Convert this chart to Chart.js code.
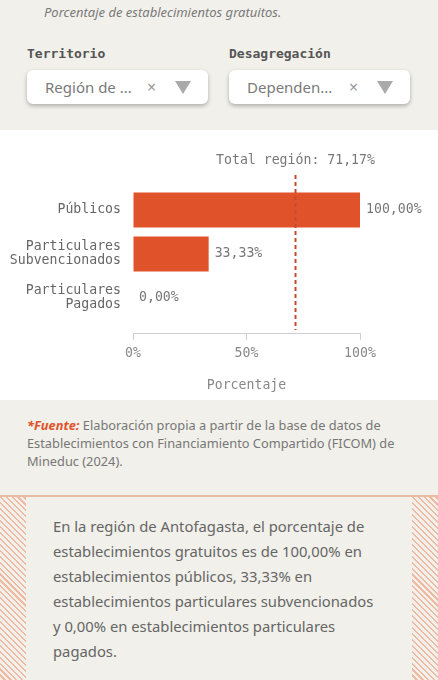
<!DOCTYPE html>
<html lang="es">
<head>
<meta charset="utf-8">
<script src="https://cdn.jsdelivr.net/npm/chart.js@4.4.1/dist/chart.umd.min.js"></script>
<style>
  body { margin: 0; width: 438px; height: 680px; overflow: hidden; background: #f1f0ea; font-family: "Noto Sans", sans-serif; }
  .head { position: relative; height: 130px; }
  .subtitle { position: absolute; left: 44px; top: 3px; font-size: 13px; font-style: italic; color: #7a7a7a; }
  .lbl { position: absolute; top: 46px; font-family: "DejaVu Sans Mono", monospace; font-weight: bold; font-size: 13px; color: #555; }
  .sel { position: absolute; top: 70px; width: 181px; height: 34px; background: #fff; border-radius: 6px;
         box-shadow: 0 2px 4px rgba(0,0,0,0.28); }
  .sel span { position: absolute; left: 18px; top: 7px; font-size: 15px; color: #7a7a7a; }
  .sel .x { left: 120px; top: 6px; font-size: 16px; color: #999; }
  .sel .tri { position: absolute; left: 148px; top: 11px; width: 0; height: 0;
              border-left: 8px solid transparent; border-right: 8px solid transparent; border-top: 13px solid #aaa; }
  .chartbox { background: #fff; height: 270px; }
  .src { padding: 16px 22px 0 27px; height: 79px; font-size: 12.8px; line-height: 18px; color: #777; }
  .src b { color: #e0532a; font-style: italic; }
  .sep { height: 2px; background: #ebbaa2; }
  .note { display: flex; height: 185px; }
  .hatch { width: 26px; background: repeating-linear-gradient(45deg, #efb9a2 0 1.5px, transparent 1.5px 4.2px); }
  .notetext { flex: 1; padding: 17px 31px 0 27px; font-size: 14.8px; line-height: 25px; color: #666; }
</style>
</head>
<body>
<div class="head">
  <div class="subtitle">Porcentaje de establecimientos gratuitos.</div>
  <div class="lbl" style="left:27px">Territorio</div>
  <div class="lbl" style="left:229px">Desagregación</div>
  <div class="sel" style="left:27px"><span>Región de ...</span><span class="x">×</span><div class="tri"></div></div>
  <div class="sel" style="left:229px"><span>Dependen...</span><span class="x">×</span><div class="tri"></div></div>
</div>
<div class="chartbox"><canvas id="chart" width="438" height="270"></canvas></div>
<div class="src"><b>*Fuente:</b> Elaboración propia a partir de la base de datos de Establecimientos con Financiamiento Compartido (FICOM) de Mineduc (2024).</div>
<div class="sep"></div>
<div class="note">
  <div class="hatch"></div>
  <div class="notetext">En la región de Antofagasta, el porcentaje de establecimientos gratuitos es de 100,00% en establecimientos públicos, 33,33% en establecimientos particulares subvencionados y 0,00% en establecimientos particulares pagados.</div>
  <div class="hatch"></div>
</div>
<script>
const categories = ["Públicos", ["Particulares", "Subvencionados"], ["Particulares", "Pagados"]];
const values = [100, 33.33, 0];
const regionTotal = 71.17;
const xTicks = [0, 50, 100];

const MONO = "'DejaVu Sans Mono', monospace";
const MONO_SIZE = 13.2;
const BAR = "#e0522a";

function fmt(v) {
  return v.toFixed(2).replace(".", ",") + "%";
}

const extras = {
  id: "extras",
  afterDatasetsDraw(chart) {
    const { ctx, chartArea, scales } = chart;
    const x = scales.x;
    ctx.save();

    // axis line, a bit below the bars
    const axisY = chartArea.bottom + 13.5;
    ctx.strokeStyle = "#cfcfcf";
    ctx.lineWidth = 1;
    ctx.beginPath();
    ctx.moveTo(x.getPixelForValue(xTicks[0]), axisY);
    ctx.lineTo(x.getPixelForValue(xTicks[xTicks.length - 1]), axisY);
    ctx.stroke();

    // value labels
    ctx.font = MONO_SIZE + "px " + MONO;
    ctx.fillStyle = "#777";
    ctx.textBaseline = "middle";
    ctx.textAlign = "left";
    chart.getDatasetMeta(0).data.forEach((bar, i) => {
      ctx.fillText(fmt(values[i]), bar.x + 6, bar.y);
    });

    // region total reference
    const rx = Math.round(x.getPixelForValue(regionTotal)) + 0.5;
    ctx.strokeStyle = "#c54b2e";
    ctx.lineWidth = 2;
    ctx.setLineDash([4, 3]);
    ctx.beginPath();
    ctx.moveTo(rx, chartArea.top - 13);
    ctx.lineTo(rx, chartArea.bottom + 10);
    ctx.stroke();
    ctx.setLineDash([]);

    ctx.textAlign = "center";
    ctx.fillStyle = "#777";
    ctx.fillText("Total región: " + fmt(regionTotal), rx, chartArea.top - 27);
    ctx.restore();
  },
};

new Chart(document.getElementById("chart"), {
  type: "bar",
  data: {
    labels: categories,
    datasets: [{ data: values, backgroundColor: BAR, categoryPercentage: 1, barPercentage: 0.8 }],
  },
  options: {
    indexAxis: "y",
    responsive: false,
    animation: false,
    layout: { padding: { top: 58, right: 78, left: 0, bottom: 0 } },
    plugins: { legend: { display: false }, tooltip: { enabled: false } },
    scales: {
      x: {
        min: 0,
        max: 100,
        afterBuildTicks: (s) => { s.ticks = xTicks.map((v) => ({ value: v })); },
        afterFit: (s) => { s.height = 80; },
        border: { display: false },
        grid: { drawOnChartArea: false, tickLength: 20, tickColor: "#cfcfcf", tickBorderDash: [0, 13, 7, 100] },
        ticks: { padding: 6, color: "#888", font: { family: MONO, size: MONO_SIZE }, callback: (v) => v + "%" },
        title: { display: true, text: "Porcentaje", color: "#888", padding: { bottom: 7 }, font: { family: MONO, size: MONO_SIZE } },
      },
      y: {
        afterFit: (s) => { s.width = 133; },
        border: { display: false },
        grid: { display: false, drawTicks: false },
        ticks: { padding: 12, color: "#666", font: { family: MONO, size: MONO_SIZE, lineHeight: 1.06 } },
      },
    },
  },
  plugins: [extras],
});
</script>
</body>
</html>
